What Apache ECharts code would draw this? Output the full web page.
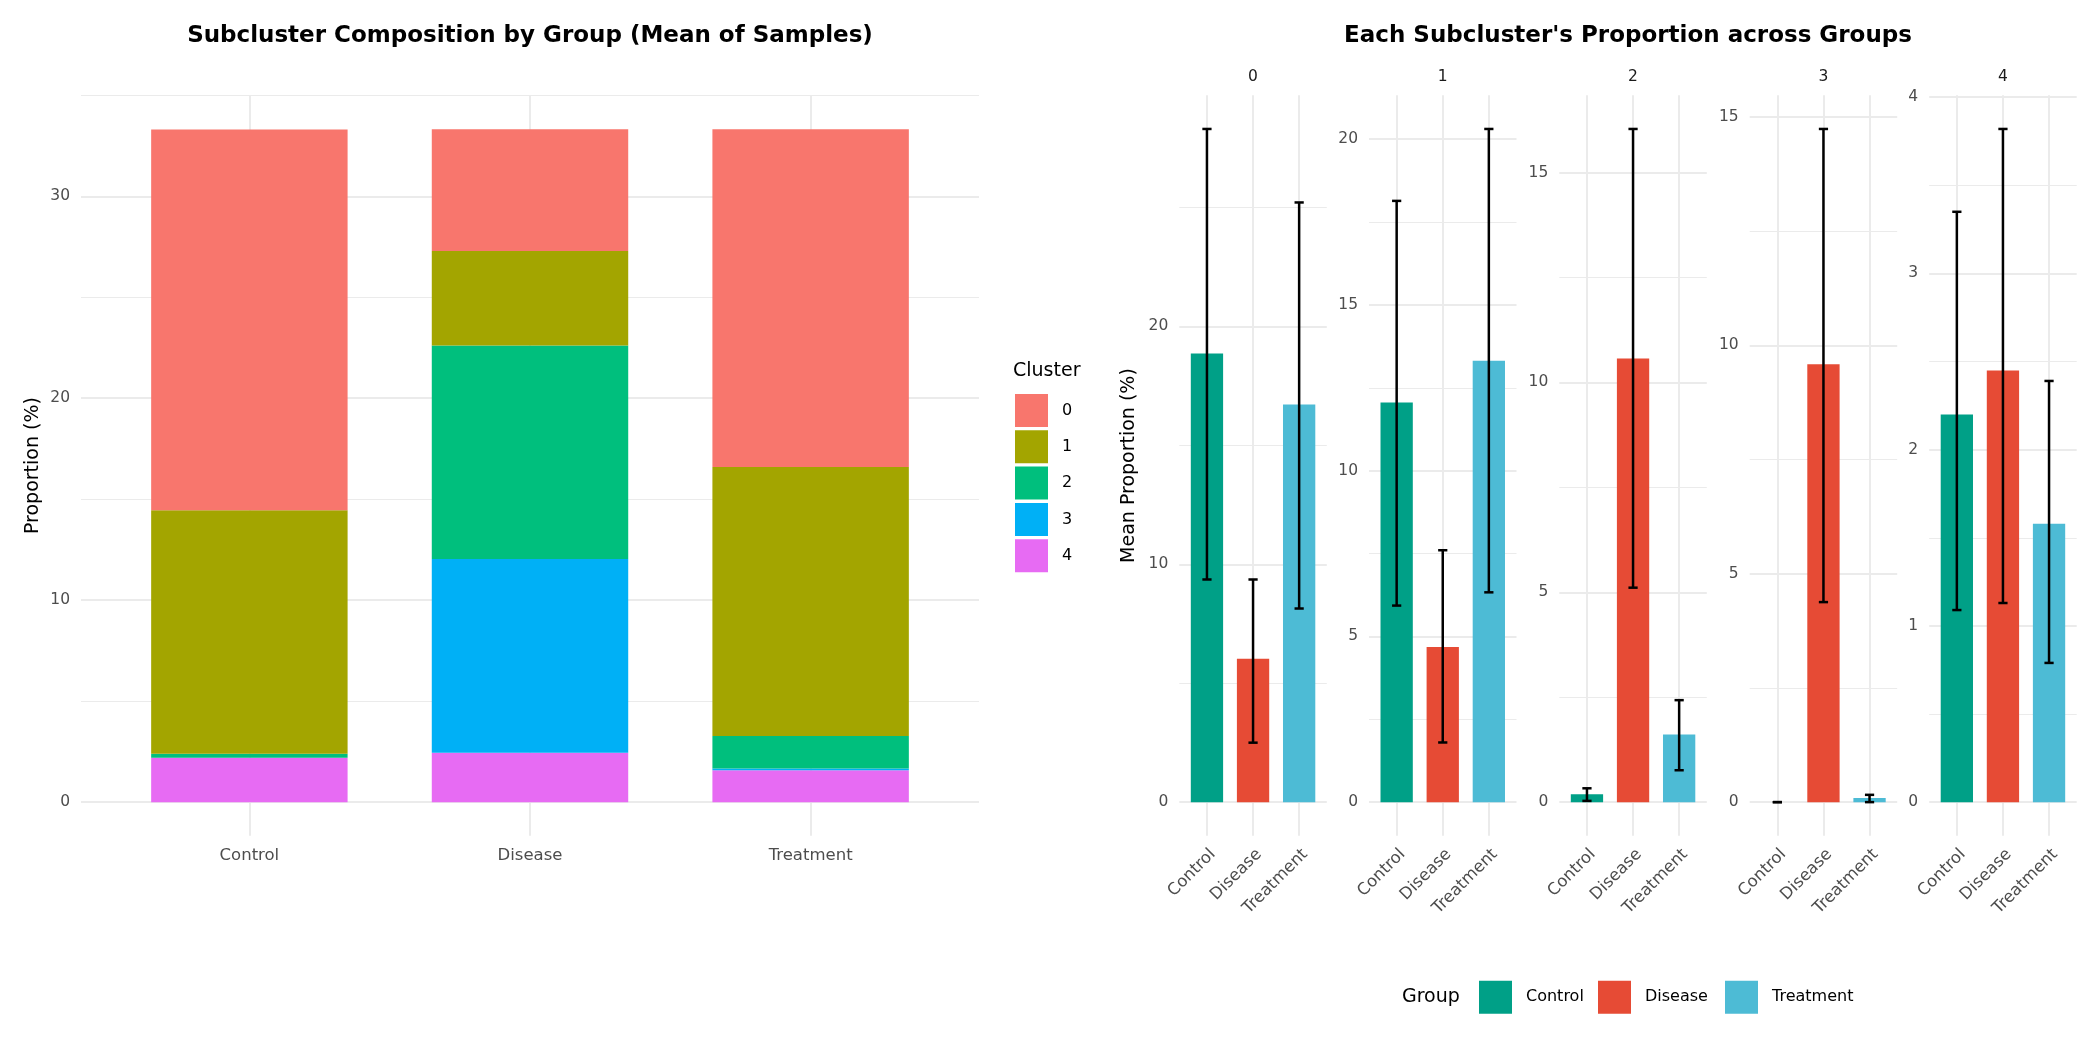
<!DOCTYPE html>
<html>
<head>
<meta charset="utf-8">
<title>Subcluster composition</title>
<script src="https://cdn.jsdelivr.net/npm/echarts@6/dist/echarts.min.js"></script>
<style>
  html, body { margin: 0; padding: 0; background: #fff; }
  #chart { width: 2100px; height: 1050px; }
</style>
</head>
<body>
<div id="chart"></div>
<script>
// categories
const groups = ["Control", "Disease", "Treatment"];
const clusters = ["0", "1", "2", "3", "4"];

// mean proportion (%) of each cluster, one value per group
const cluster0 = [18.86, 6.03, 16.72];
const cluster1 = [12.06, 4.68, 13.32];
const cluster2 = [0.19, 10.57, 1.61];
const cluster3 = [0.0, 9.59, 0.09];
const cluster4 = [2.20, 2.45, 1.58];

// error bar ends (mean - sd / mean + sd), one value per group
const low0 = [9.36, 2.50, 8.14];
const high0 = [28.30, 9.36, 25.21];
const low1 = [5.93, 1.80, 6.33];
const high1 = [18.14, 7.60, 20.31];
const low2 = [0.03, 5.11, 0.76];
const high2 = [0.33, 16.04, 2.43];
const low3 = [0.0, 4.38, 0.0];
const high3 = [0.0, 14.74, 0.16];
const low4 = [1.09, 1.13, 0.79];
const high4 = [3.35, 3.82, 2.39];

// tick labels
const leftTicks = [0, 10, 20, 30];
const leftMinor = [5, 15, 25, 35];
const facetTicks = [[0, 10, 20], [0, 5, 10, 15, 20], [0, 5, 10, 15], [0, 5, 10, 15], [0, 1, 2, 3, 4]];
const facetMinor = [[5, 15, 25], [2.5, 7.5, 12.5, 17.5], [2.5, 7.5, 12.5], [2.5, 7.5, 12.5], [0.5, 1.5, 2.5, 3.5]];

const clusterMeans = [cluster0, cluster1, cluster2, cluster3, cluster4];
const errLow = [low0, low1, low2, low3, low4];
const errHigh = [high0, high1, high2, high3, high4];

const clusterColors = ["#F8766D", "#A3A500", "#00BF7D", "#00B0F6", "#E76BF3"];
const groupColors = ["#00A087", "#E64B35", "#4DBBD5"];

const FONT = "DejaVu Sans";
const GRID_COLOR = "#EBEBEB";
const AXIS_TEXT = "#4D4D4D";

// panel layout (px)
const leftPanelX = 81;
const leftPanelW = 898;
const facetLeft = [1179.3, 1369, 1559.3, 1749.7, 1929.2];
const facetWidth = 147.5;
const panelTop = 95.3;
const panelHeight = 740.5;
const LEFT_MIN = -1.667;
const LEFT_MAX = 35;

// value x axis spanning 0.4..3.6 like a discrete ggplot scale
function xAxisFor(gridIndex, showLabels) {
  return {
    type: "value",
    gridIndex: gridIndex,
    min: 0.4,
    max: 3.6,
    axisLine: { show: false, onZero: false },
    axisTick: { show: false, customValues: [1, 2, 3] },
    splitLine: { show: true, lineStyle: { color: GRID_COLOR, width: 2 } },
    axisLabel: {
      show: showLabels,
      customValues: [1, 2, 3],
      formatter: v => groups[Math.round(v) - 1],
      color: AXIS_TEXT,
      fontSize: 16.5,
      fontFamily: FONT,
      rotate: 45,
      align: "right",
      verticalAlign: "top",
      margin: 10
    }
  };
}

function yAxesFor(gridIndex, min, max, ticks, minor, name, nameGap) {
  return [
    {
      type: "value",
      gridIndex: gridIndex,
      min: min,
      max: max,
      name: name,
      nameLocation: "middle",
      nameRotate: 90,
      nameGap: nameGap,
      nameTextStyle: { fontSize: 19, color: "#000", fontFamily: FONT },
      axisLine: { show: false, onZero: false },
      axisTick: { show: false, customValues: ticks },
      splitLine: { show: true, lineStyle: { color: GRID_COLOR, width: 2 } },
      axisLabel: { customValues: ticks, color: AXIS_TEXT, fontSize: 15.5, fontFamily: FONT, margin: 11 }
    },
    {
      type: "value",
      gridIndex: gridIndex,
      position: "left",
      min: min,
      max: max,
      axisLine: { show: false, onZero: false },
      axisTick: { show: false, customValues: minor },
      splitLine: { show: true, lineStyle: { color: GRID_COLOR, width: 1 } },
      axisLabel: { show: false }
    }
  ];
}

function renderErrorBar(params, api) {
  const x = api.value(0);
  const lowPt = api.coord([x, api.value(1)]);
  const highPt = api.coord([x, api.value(2)]);
  const half = api.size([0.2, 0])[0] / 2;
  const style = { stroke: "#000", lineWidth: 2.5 };
  return {
    type: "group",
    children: [
      { type: "line", shape: { x1: lowPt[0], y1: lowPt[1], x2: highPt[0], y2: highPt[1] }, style: style },
      { type: "line", shape: { x1: lowPt[0] - half, y1: lowPt[1], x2: lowPt[0] + half, y2: lowPt[1] }, style: style },
      { type: "line", shape: { x1: highPt[0] - half, y1: highPt[1], x2: highPt[0] + half, y2: highPt[1] }, style: style }
    ]
  };
}

// left chart: grid 0 carries the gridlines, grid 1 the stacked bars
const band = leftPanelW / 3.2;
const grids = [
  { left: leftPanelX, top: panelTop, width: leftPanelW, height: panelHeight },
  { left: leftPanelX + 0.1 * band, top: panelTop, width: 3 * band, height: panelHeight }
];
const xAxes = [
  xAxisFor(0, false),
  {
    type: "category",
    gridIndex: 1,
    data: groups,
    axisLine: { show: false, onZero: false },
    axisTick: { show: false },
    splitLine: { show: false },
    axisLabel: { color: AXIS_TEXT, fontSize: 16.5, fontFamily: FONT, margin: 11 }
  }
];
let yAxes = yAxesFor(0, LEFT_MIN, LEFT_MAX, leftTicks, leftMinor, "Proportion (%)", 38);
yAxes.push({
  type: "value",
  gridIndex: 1,
  min: LEFT_MIN,
  max: LEFT_MAX,
  show: false,
  splitLine: { show: false }
});
const series = [];

// stacked bars, cluster 4 at the bottom
for (let k = clusters.length - 1; k >= 0; k--) {
  series.push({
    name: clusters[k],
    type: "bar",
    xAxisIndex: 1,
    yAxisIndex: 2,
    stack: "total",
    barWidth: "70%",
    itemStyle: { color: clusterColors[k] },
    data: clusterMeans[k]
  });
}

// one panel per cluster
clusters.forEach((c, p) => {
  const gi = p + 2;
  grids.push({ left: facetLeft[p], top: panelTop, width: facetWidth, height: panelHeight });
  xAxes.push(xAxisFor(gi, true));
  const top = Math.max(...errHigh[p], ...clusterMeans[p]);
  yAxes = yAxes.concat(
    yAxesFor(gi, -0.05 * top, 1.05 * top, facetTicks[p], facetMinor[p],
      p === 0 ? "Mean Proportion (%)" : "", 41)
  );
  const yi = 3 + 2 * p;
  groups.forEach((g, i) => {
    series.push({
      name: g,
      type: "bar",
      xAxisIndex: gi,
      yAxisIndex: yi,
      barWidth: 32.3,
      barGap: "-100%",
      itemStyle: { color: groupColors[i] },
      data: [[i + 1, clusterMeans[p][i]]]
    });
  });
  series.push({
    type: "custom",
    xAxisIndex: gi,
    yAxisIndex: yi,
    z: 5,
    renderItem: renderErrorBar,
    encode: { x: 0, y: [1, 2] },
    data: groups.map((g, i) => [i + 1, errLow[p][i], errHigh[p][i]])
  });
});

const legendText = { fontSize: 16, color: "#000", fontFamily: FONT, padding: [0, 0, 0, 9] };
const groupLegendLeft = [1479, 1598, 1725];

const option = {
  animation: false,
  backgroundColor: "#fff",
  textStyle: { fontFamily: FONT },
  title: [
    {
      text: "Subcluster Composition by Group (Mean of Samples)",
      left: 530, top: 24.5, padding: 0, textAlign: "center",
      textStyle: { fontSize: 23, fontWeight: "bold", color: "#000", fontFamily: FONT }
    },
    {
      text: "Each Subcluster's Proportion across Groups",
      left: 1628, top: 24.5, padding: 0, textAlign: "center",
      textStyle: { fontSize: 23, fontWeight: "bold", color: "#000", fontFamily: FONT }
    }
  ],
  legend: [
    {
      data: clusters,
      orient: "vertical",
      left: 1015, top: 394,
      padding: 0,
      itemWidth: 33, itemHeight: 33, itemGap: 3.3,
      icon: "rect",
      selectedMode: false,
      textStyle: legendText
    }
  ].concat(groups.map((g, i) => ({
    data: [g],
    orient: "horizontal",
    left: groupLegendLeft[i], top: 980.7,
    padding: 0,
    itemWidth: 33, itemHeight: 33,
    icon: "rect",
    selectedMode: false,
    textStyle: legendText
  }))),
  graphic: [
    { type: "text", x: 1013, y: 371, style: { text: "Cluster", fontSize: 19, fontFamily: FONT, fill: "#000", verticalAlign: "middle" } },
    { type: "text", x: 1402, y: 997, style: { text: "Group", fontSize: 19, fontFamily: FONT, fill: "#000", verticalAlign: "middle" } }
  ].concat(clusters.map((c, p) => ({
    type: "text",
    x: facetLeft[p] + facetWidth / 2,
    y: 77,
    style: { text: c, fontSize: 15.5, fontFamily: FONT, fill: "#1A1A1A", align: "center", verticalAlign: "middle" }
  }))),
  grid: grids,
  xAxis: xAxes,
  yAxis: yAxes,
  series: series
};

const chart = echarts.init(document.getElementById("chart"));
chart.setOption(option);
</script>
</body>
</html>
